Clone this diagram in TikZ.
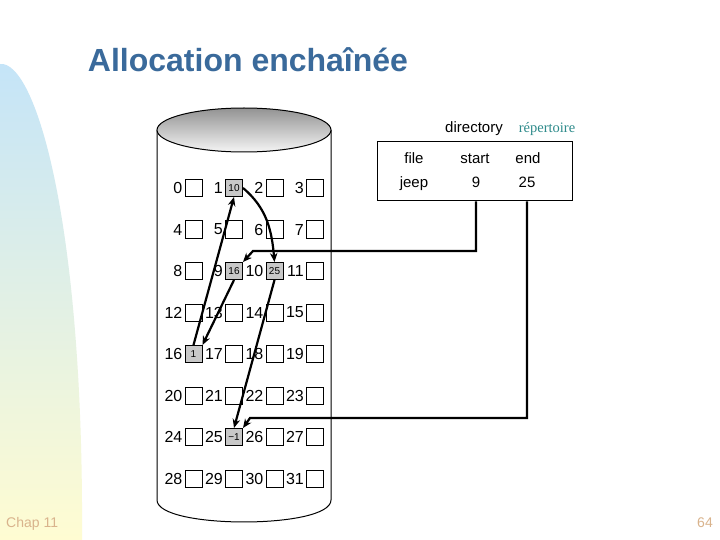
\documentclass[tikz,border=0pt]{standalone}
\usepackage{fontspec}
\setmainfont{Liberation Sans}
\newfontfamily\serifrm{Liberation Serif}
\usetikzlibrary{arrows.meta,positioning}
\definecolor{TitleBlue}{HTML}{3A6A9B}
\definecolor{Teal}{HTML}{2E8B8B}
\definecolor{Tan}{HTML}{D9B38C}
\definecolor{Used}{HTML}{C8C8C8}
\definecolor{BandTop}{HTML}{C4E4F8}
\definecolor{BandBot}{HTML}{FFFCD2}

\begin{document}
\begin{tikzpicture}[x=1pt,y=-1pt,
    blk/.style={draw,fill=white,line width=1pt,minimum size=17pt,inner sep=0pt},
    used/.style={blk,fill=Used,font=\fontsize{10}{10}\selectfont},
    num/.style={font=\fontsize{16}{16}\selectfont,inner sep=0pt},
    dir/.style={font=\fontsize{15}{15}\selectfont,anchor=base,inner sep=0pt},
    title/.style={font=\bfseries\fontsize{32}{32}\selectfont,text=TitleBlue,anchor=base,inner sep=0pt},
    link/.style={line width=2.2pt,-{Stealth[length=9pt,width=7.5pt]}},
    foot/.style={text=Tan,font=\fontsize{14}{14}\selectfont,inner sep=0pt}
  ]
    \useasboundingbox (0,0) rectangle (720,540);
    \fill[white] (0,0) rectangle (720,540);
    % left band
    \shade[top color=BandTop,bottom color=BandBot]
      (0,540) -- (0,64) .. controls (35,60) and (84,220) .. (82,540) -- cycle;
    % title
    \node[title] (ttl) at (248,72) {Allocation enchaînée};
    % disk
    \fill[white] (157,130) -- (157,500) .. controls (157,529.3) and (331,529.3) .. (331,500) -- (331,130) -- cycle;
    \draw[line width=1pt] (157,130) -- (157,500) .. controls (157,529.3) and (331,529.3) .. (331,500) -- (331,130);
    \shade[top color=gray!85,bottom color=gray!8,draw=black,line width=1pt]
      (244,130) ellipse [x radius=87,y radius=22];
    % blocks
    \foreach \i in {0,...,31}{
      \pgfmathtruncatemacro\col{mod(\i,4)}
      \pgfmathtruncatemacro\row{div(\i,4)}
      \node[blk] (blk\i) at ({193.5+40.5*\col},{188+41.5*\row}) {};
      \node[num,left=2pt of blk\i] (n\i) {\i};
    }
    \foreach \i/\v in {1/10,9/16,10/25,16/1,25/−1}
      \node[used] (u\i) at (blk\i) {\v};
    % directory
    \node[draw,line width=1pt,minimum width=195pt,minimum height=59pt] (tbl) at (474.5,171.5) {};
    \node[dir] (dirlbl) at (474,133) {directory};
    \node[dir,font=\serifrm\fontsize{14.5}{15}\selectfont,text=Teal] (rep) at (547,133) {répertoire};
    \node[dir] (hfile) at (414,164) {file};
    \node[dir] (hstart) at (475,164) {start};
    \node[dir] (hend) at (528,164) {end};
    \node[dir] (fjeep) at (414,188) {jeep};
    \node[dir] (fstart) at (476,188) {9};
    \node[dir] (fend) at (527,188) {25};
    % links
    \coordinate (sbend) at (253,251);
    \coordinate (ebend) at (250,418);
    \draw[link] (fstart |- tbl.south) |- (sbend) -- (blk9.north east);
    \draw[link] (fend |- tbl.south) |- (ebend) -- (blk25.north east);
    \draw[link] (blk9.south) -- (blk16.north east);
    \draw[link] (blk16.north) -- (blk1.south);
    \draw[link] (blk1.east) to[out=-40,in=95] (blk10.north);
    \draw[link] (blk10.south) -- (blk25.north);
    % footer
    \node[foot,anchor=base west] (chap) at (6,527) {Chap 11};
    \node[foot,anchor=base east] (pg) at (713,527) {64};
  \end{tikzpicture}
\end{document}
